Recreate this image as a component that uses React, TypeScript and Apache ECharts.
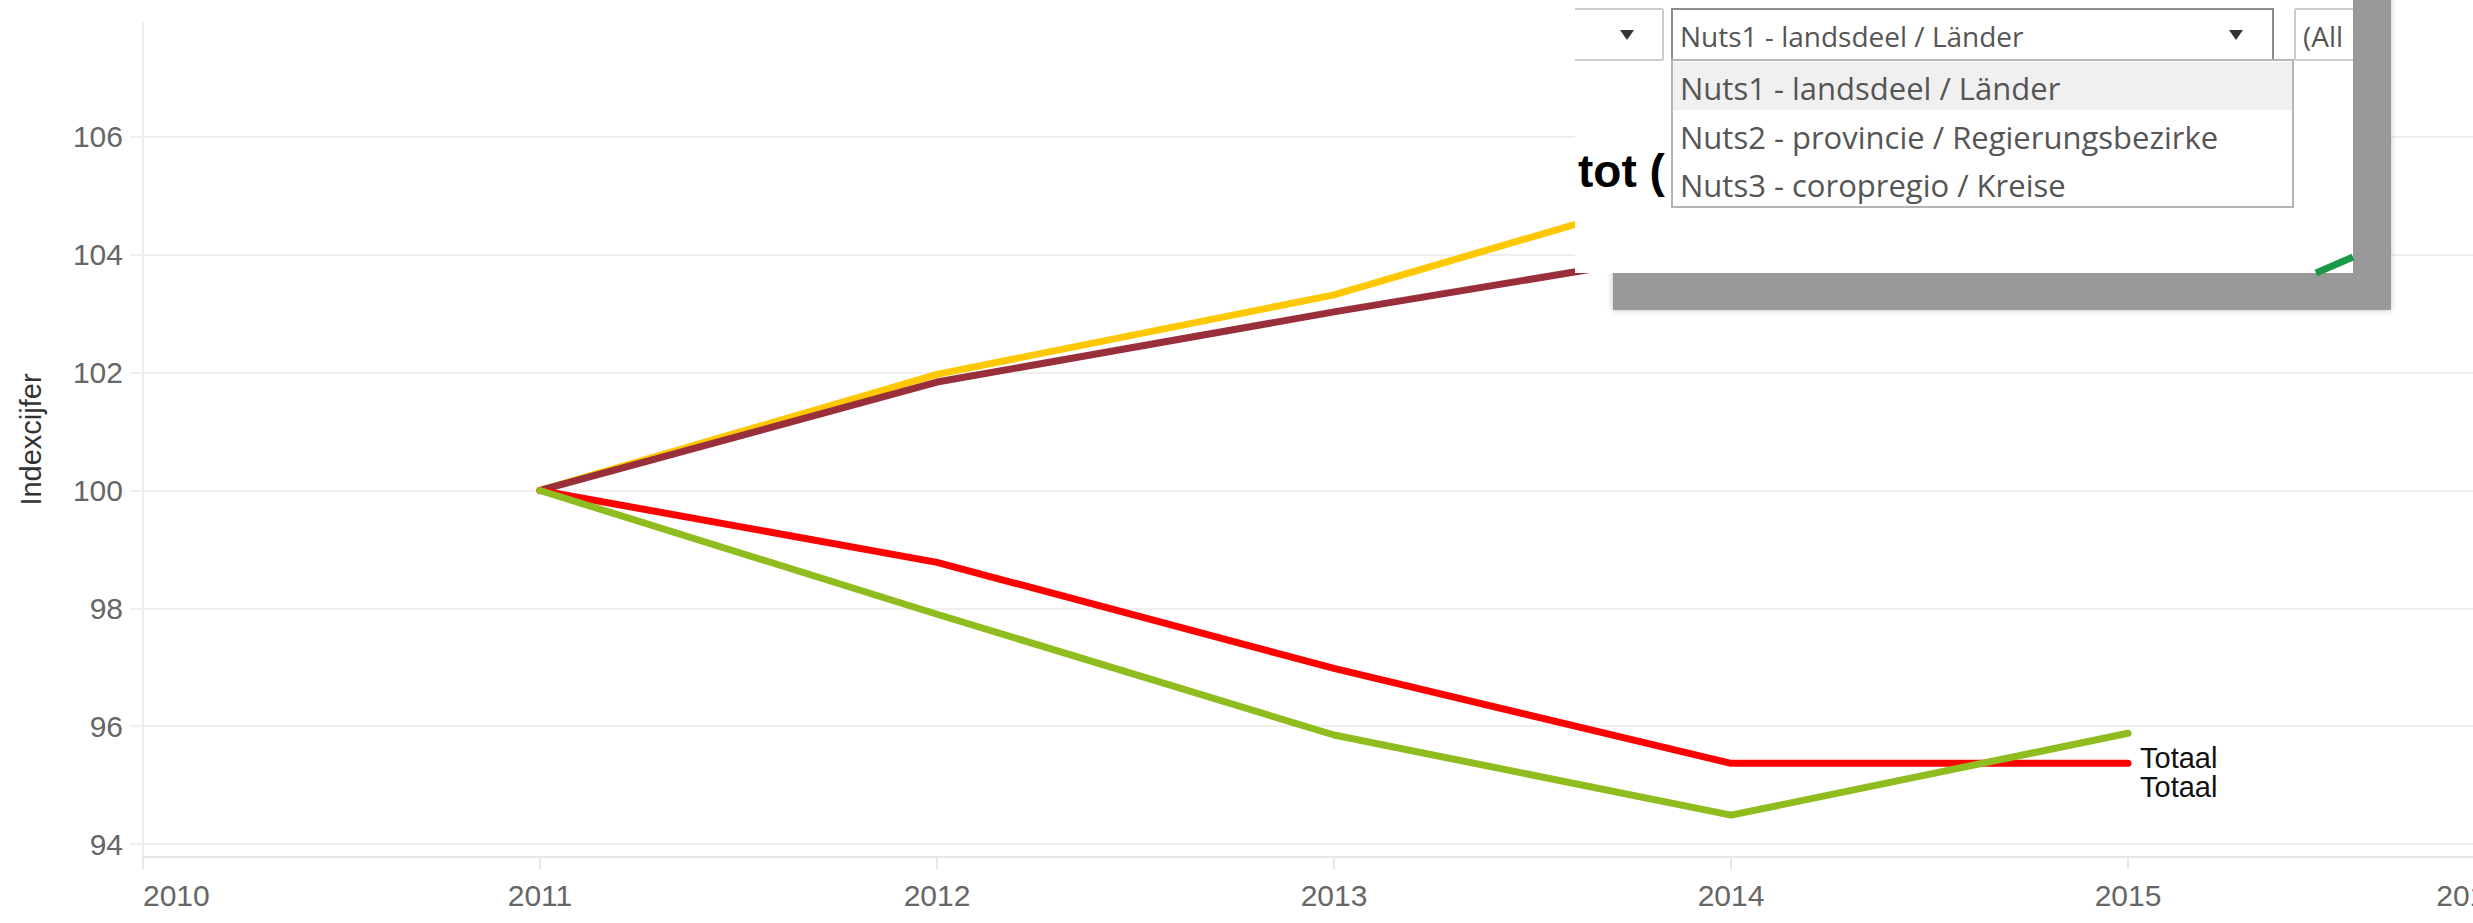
import React, { useEffect, useRef } from "react";
import * as echarts from "echarts";

// ---- data ----
const years = [2011, 2012, 2013, 2014, 2015];
const yellowValues = [100, 101.97, 103.32, 105.29, 106.7];
const maroonValues = [100, 101.84, 103.03, 104.15, 105.2];
const redValues = [100, 98.78, 96.98, 95.37, 95.37];
const greenValues = [100, 97.9, 95.85, 94.49, 95.88];
const yTickValues = [94, 96, 98, 100, 102, 104, 106];
const xMinYear = 2010;
const xMaxYear = 2016;
const endLabelText = "Totaal";
const yAxisTitle = "Indexcijfer";
const dropdownSelected = "Nuts1 - landsdeel / Länder";
const dropdownItems = [
  "Nuts1 - landsdeel / Länder",
  "Nuts2 - provincie / Regierungsbezirke",
  "Nuts3 - coropregio / Kreise",
];
const allText = "(All)";
const overlayTitle = "tot (";

const FONT = '"Liberation Sans", Arial, sans-serif';
const UI_FONT = '"Open Sans", "Noto Sans", sans-serif';

function pairs(vals: number[]) {
  return years.map((y, i) => [y, vals[i]]);
}

function lineSeries(name: string, vals: number[], color: string, labelDy: number) {
  return {
    type: "line",
    name,
    data: pairs(vals),
    symbol: "none",
    z: 3,
    lineStyle: { color, width: 7, cap: "round", join: "round" },
    endLabel: {
      show: true,
      formatter: endLabelText,
      color: "#111",
      fontSize: 29,
      fontFamily: FONT,
      distance: 12,
      offset: [0, labelDy],
    },
  };
}

export default function App() {
  const ref = useRef<HTMLDivElement>(null);
  useEffect(() => {
    if (!ref.current) return;
    const chart = echarts.init(ref.current, undefined, { renderer: "svg" });
    const popupX = 1575;
    const popupR = 2353;
    const popupB = 273;
    const Z = 100;
    const triangle = (cx: number, cy: number) => ({
      type: "polygon",
      z: Z,
      shape: { points: [[cx - 7, cy - 5], [cx + 7, cy - 5], [cx, cy + 5]] },
      style: { fill: "#333" },
    });
    const border = (x1: number, y1: number, x2: number, y2: number, color = "#cccccc") => ({
      type: "line",
      z: Z,
      shape: { x1, y1, x2, y2 },
      style: { stroke: color, lineWidth: 2 },
    });
    const itemCenters = [88, 137, 185];
    chart.setOption({
      animation: false,
      backgroundColor: "#ffffff",
      textStyle: { fontFamily: FONT },
      grid: { left: 143, right: -52, top: 22, bottom: 66, outerBoundsMode: "none" },
      xAxis: {
        type: "value",
        min: xMinYear,
        max: xMaxYear,
        interval: 1,
        splitLine: { show: false },
        axisLine: { show: true, lineStyle: { color: "#e6e6e6", width: 2 } },
        axisTick: { show: true, length: 12, lineStyle: { color: "#e6e6e6", width: 2 } },
        axisLabel: {
          formatter: (v: number) => (v === xMaxYear ? `{m|${v}}` : String(v)),
          rich: { m: { padding: [0, 22, 0, 0], fontSize: 30, color: "#666", fontFamily: FONT } },
          color: "#666",
          fontSize: 30,
          fontFamily: FONT,
          margin: 23,
          alignMinLabel: "left",
          alignMaxLabel: "right",
        },
      },
      yAxis: {
        type: "value",
        min: 93.78,
        max: 107.95,
        axisLine: { show: true, lineStyle: { color: "#ededed", width: 2 } },
        axisTick: {
          show: true,
          length: 13,
          customValues: yTickValues,
          lineStyle: { color: "#efefef", width: 2 },
        },
        axisLabel: {
          customValues: yTickValues,
          color: "#666",
          fontSize: 30,
          fontFamily: FONT,
          margin: 20,
        },
        splitLine: { show: true, lineStyle: { color: "#efefef", width: 2 } },
        name: yAxisTitle,
        nameLocation: "middle",
        nameRotate: 90,
        nameGap: 98,
        nameTextStyle: { fontSize: 29, color: "#333", fontFamily: FONT },
      },
      series: [
        lineSeries("Reeks geel", yellowValues, "#ffc800", 0),
        lineSeries("Reeks bordeaux", maroonValues, "#9a2f3c", 0),
        lineSeries("Reeks rood", redValues, "#ff0000", -5),
        lineSeries("Reeks groen", greenValues, "#8fbc1e", 54),
      ],
      graphic: [
        {
          type: "rect",
          z: Z,
          shape: { x: 1613, y: -20, width: 778, height: 330 },
          style: { fill: "#999999", shadowBlur: 6, shadowColor: "rgba(0,0,0,0.25)" },
        },
        {
          type: "rect",
          z: Z,
          shape: { x: popupX, y: -20, width: popupR - popupX, height: popupB + 20 },
          style: { fill: "#ffffff" },
        },
        {
          type: "line",
          z: Z,
          shape: { x1: 2316, y1: popupB, x2: popupR, y2: 257 },
          style: { stroke: "#1a9a48", lineWidth: 7 },
        },
        {
          type: "text",
          z: Z,
          x: 1578,
          y: 194,
          style: {
            text: overlayTitle,
            fill: "#000",
            font: `bold 46px ${FONT}`,
            verticalAlign: "bottom",
          },
        },
        // dropdown 1 (cut off by the overlay edge)
        border(popupX, 9, 1663, 9),
        border(popupX, 60, 1663, 60),
        border(1663, 9, 1663, 60),
        triangle(1627, 35),
        // dropdown 2
        {
          type: "rect",
          z: Z,
          shape: { x: 1672, y: 9, width: 601, height: 51 },
          style: { fill: "#fff", stroke: "#8c8c8c", lineWidth: 2 },
        },
        {
          type: "text",
          z: Z,
          x: 1680,
          y: 36,
          style: { text: dropdownSelected, fill: "#555", font: `28px ${UI_FONT}`, verticalAlign: "middle" },
        },
        triangle(2236, 35),
        // dropdown 3 (cut off)
        border(2295, 9, popupR, 9),
        border(2295, 60, popupR, 60),
        border(2295, 9, 2295, 60),
        {
          type: "text",
          z: Z,
          x: 2303,
          y: 36,
          style: {
            text: allText,
            fill: "#555",
            font: `28px ${UI_FONT}`,
            verticalAlign: "middle",
            width: 44,
            overflow: "truncate",
            ellipsis: "",
          },
        },
        // open list
        {
          type: "rect",
          z: Z,
          shape: { x: 1672, y: 60, width: 621, height: 147 },
          style: { fill: "#fff", stroke: "#b5b5b5", lineWidth: 2 },
        },
        {
          type: "rect",
          z: Z,
          shape: { x: 1673, y: 62, width: 619, height: 48 },
          style: { fill: "#f0f0f0" },
        },
        ...dropdownItems.map((t, i) => ({
          type: "text",
          z: Z,
          x: 1680,
          y: itemCenters[i],
          style: { text: t, fill: "#555", font: `31px ${UI_FONT}`, verticalAlign: "middle" },
        })),
      ],
    });
    return () => chart.dispose();
  }, []);
  return (
    <div
      ref={ref}
      style={{ position: "absolute", left: 0, top: 0, width: 2473, height: 923 }}
    />
  );
}
